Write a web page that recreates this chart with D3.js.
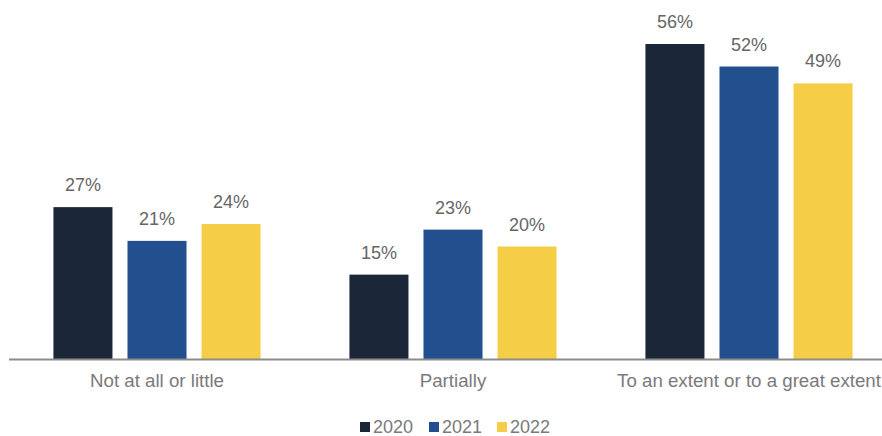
<!DOCTYPE html>
<html><head><meta charset="utf-8">
<script src="https://cdn.jsdelivr.net/npm/d3@7"></script>
<style>body{margin:0;background:#fff}svg{display:block;font-family:"Liberation Sans",Arial,sans-serif}</style>
</head><body><svg id="c" width="882" height="436"></svg>
<script>
const categories = ["Not at all or little", "Partially", "To an extent or to a great extent"];
const years = ["2020", "2021", "2022"];
const v2020 = [27, 15, 56];
const v2021 = [21, 23, 52];
const v2022 = [24, 20, 49];
const colors = ["#1B2638", "#22508E", "#F5CD47"];

const series = [v2020, v2021, v2022];
const svg = d3.select("#c");
const base = 359;
const x0 = d3.scaleBand().domain(categories).range([9, 897]);
const x1 = d3.scaleBand().domain(years).range([0, x0.bandwidth()]).paddingInner(0.203).paddingOuter(0.6);
const y = d3.scaleLinear().domain([0, 56]).range([base, 44]);

categories.forEach((c, ci) => {
  years.forEach((yr, yi) => {
    const v = series[yi][ci];
    const bx = x0(c) + x1(yr);
    svg.append("rect").attr("x", bx).attr("y", y(v)).attr("width", x1.bandwidth())
      .attr("height", base - y(v)).attr("fill", colors[yi]);
    svg.append("text").attr("x", bx + x1.bandwidth() / 2).attr("y", y(v) - 16)
      .attr("text-anchor", "middle").attr("font-size", 18).attr("fill", "#666")
      .text(v + "%");
  });
});

const axis = d3.axisBottom(x0).tickSize(0).tickPadding(14.5);
const g = svg.append("g").attr("transform", `translate(0,${base})`).call(axis);
g.select(".domain").remove();
g.selectAll("text").attr("font-size", 18.7).attr("fill", "#7a7a7a").attr("font-family", "Liberation Sans, Arial, sans-serif");
svg.append("line").attr("x1", 9).attr("x2", 882).attr("y1", base + 0.5).attr("y2", base + 0.5)
  .attr("stroke", "#8c8c8c").attr("stroke-width", 2);

const legX = [360, 429, 497];
years.forEach((yr, i) => {
  svg.append("rect").attr("x", legX[i]).attr("y", 422).attr("width", 10).attr("height", 10).attr("fill", colors[i]);
  svg.append("text").attr("x", legX[i] + 13).attr("y", 433).attr("font-size", 18).attr("fill", "#7a7a7a").text(yr);
});
</script></body></html>
